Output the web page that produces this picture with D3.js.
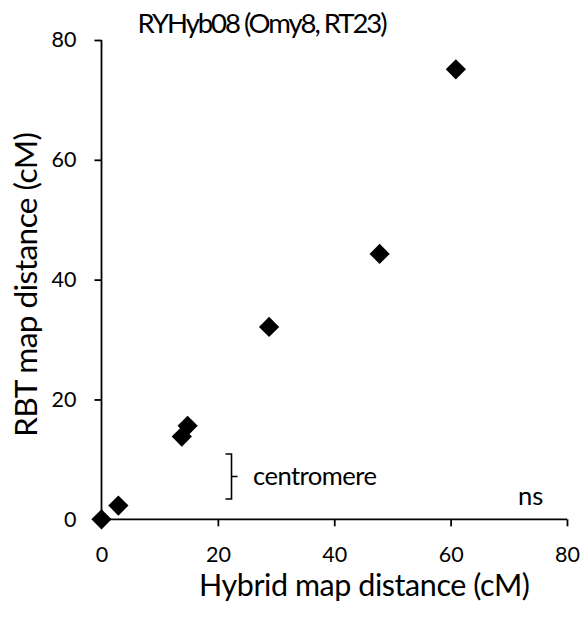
<!DOCTYPE html>
<html>
<head>
<meta charset="utf-8">
<script src="https://cdn.jsdelivr.net/npm/d3@7"></script>
<style>
  html, body { margin: 0; padding: 0; background: #fff; }
  svg text { font-family: Lato, "Open Sans", sans-serif; fill: #000; }
</style>
</head>
<body>
<svg id="chart" width="583" height="621"></svg>
<script>
// Data
const hybridCM = [0, 2.9, 13.8, 14.8, 28.8, 47.8, 60.9];
const rbtCM    = [0, 2.3, 13.8, 15.6, 32.1, 44.3, 75.1];
const xTicks = [0, 20, 40, 60, 80];
const yTicks = [0, 20, 40, 60, 80];
const titleText = "RYHyb08 (Omy8, RT23)";
const xLabel = "Hybrid map distance (cM)";
const yLabel = "RBT map distance (cM)";
const centromereRange = [3.4, 10.9]; // RBT cM spanned by the bracket
const centromereText = "centromere";
const centromereX = 22;
const sigText = "ns";

const svg = d3.select("#chart");
const x = d3.scaleLinear().domain([0, 80]).range([101.5, 567]);
const y = d3.scaleLinear().domain([0, 80]).range([519.3, 40]);

// size text to a target width; optionally enlarge glyphs and tighten spacing
function fit(sel, target, grow, finalWidth) {
  const w = sel.node().getComputedTextLength();
  const fs = parseFloat(sel.attr("font-size"));
  const s = fs * target / w * (grow || 1);
  sel.attr("font-size", s.toFixed(2));
  if (grow && grow !== 1) sel.attr("textLength", finalWidth || target).attr("lengthAdjust", "spacing");
}

// Axes
const xAxis = d3.axisBottom(x).tickValues(xTicks).tickSize(7).tickPadding(20);
const yAxis = d3.axisLeft(y).tickValues(yTicks).tickSize(7).tickPadding(18);

const gx = svg.append("g").attr("transform", `translate(0,${y(0)})`).call(xAxis);
const gy = svg.append("g").attr("transform", `translate(${x(0)},0)`).call(yAxis);
[gx, gy].forEach(g => {
  g.select(".domain").attr("stroke", "#000").attr("stroke-width", 1.8);
  g.selectAll(".tick line").attr("stroke", "#000").attr("stroke-width", 1.8);
  g.selectAll(".tick text").attr("font-size", 21.5).attr("font-family", "Lato, 'Open Sans', sans-serif").attr("fill", "#000");
});
gy.select(".domain").attr("d", `M0,${y(80)}V${y(0)}`);
gx.select(".domain").attr("d", `M${x(0)},0H${x(80)}`);
gx.selectAll(".tick").filter(d => d === 0).select("line").remove();
gy.selectAll(".tick").filter(d => d === 0).select("line").remove();

// Points
const sym = d3.symbol().type(d3.symbolSquare).size(205);
svg.append("g").selectAll("path").data(hybridCM.map((h, i) => ({h, r: rbtCM[i]})))
  .join("path")
  .attr("d", sym)
  .attr("transform", d => `translate(${x(d.h)},${y(d.r)}) rotate(45)`)
  .attr("fill", "#000");

// Title
const t = svg.append("text").attr("x", 262.5).attr("y", 33).attr("text-anchor", "middle")
  .attr("font-size", 24).text(titleText);
fit(t, 241, 1.2, 250);

// Axis labels
const xl = svg.append("text").attr("x", 364.5).attr("y", 596).attr("text-anchor", "middle")
  .attr("font-size", 24).text(xLabel);
fit(xl, 331, 1.03);
const yl = svg.append("text").attr("transform", "translate(37,284.5) rotate(-90)")
  .attr("text-anchor", "middle").attr("font-size", 24).text(yLabel);
fit(yl, 305, 1.04);

// Centromere bracket
const bx = x(centromereX) + 2;
const yTop = y(centromereRange[1]), yBot = y(centromereRange[0]);
const yMid = (yTop + yBot) / 2;
svg.append("path")
  .attr("d", `M${bx - 6},${yTop}H${bx}V${yBot}H${bx - 6}M${bx},${yMid}H${bx + 6}`)
  .attr("fill", "none").attr("stroke", "#000").attr("stroke-width", 1.6);
const ct = svg.append("text").attr("x", 253).attr("y", 485).attr("font-size", 18).text(centromereText);
fit(ct, 124, 1.04);

// ns
svg.append("text").attr("x", 518).attr("y", 505).attr("font-size", ct.attr("font-size")).text(sigText);
</script>
</body>
</html>
